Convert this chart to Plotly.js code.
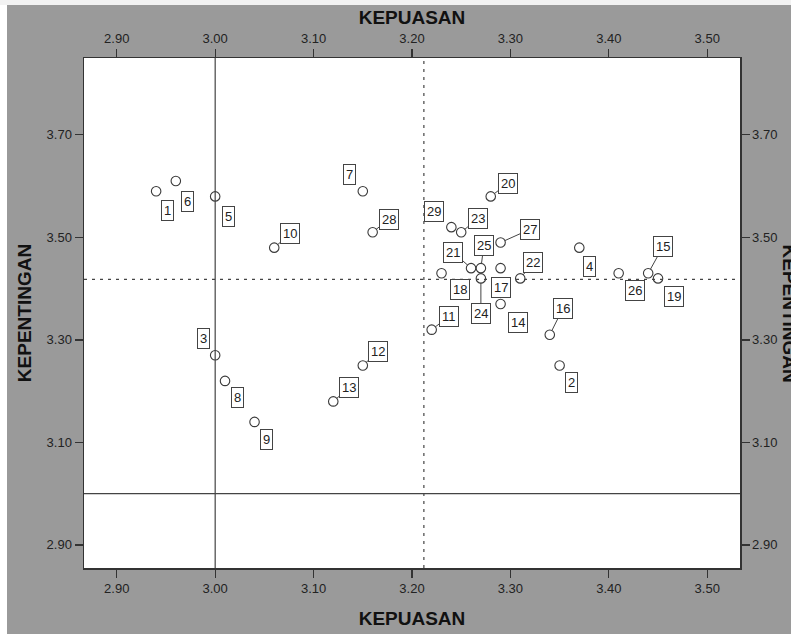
<!DOCTYPE html>
<html>
<head>
<meta charset="utf-8">
<script src="https://cdn.plot.ly/plotly-3.0.1.min.js"></script>
<style>
  html, body { margin: 0; padding: 0; background: #ffffff; }
  #chart { width: 791px; height: 634px; }
</style>
</head>
<body>
<div id="chart"></div>
<script>
// ---- data ----
const itemLabels = ["1","2","3","4","5","6","7","8","9","10","11","12","13","14","15",
                    "16","17","18","19","20","21","22","23","24","25","26","27","28","29"];
const kepuasan = [2.94, 3.35, 3.00, 3.37, 3.00, 2.96, 3.15, 3.01, 3.04, 3.06,
                  3.22, 3.15, 3.12, 3.29, 3.44, 3.34, 3.29, 3.23, 3.45, 3.28,
                  3.26, 3.31, 3.25, 3.27, 3.27, 3.41, 3.29, 3.16, 3.24];
const kepentingan = [3.59, 3.25, 3.27, 3.48, 3.58, 3.61, 3.59, 3.22, 3.14, 3.48,
                     3.32, 3.25, 3.18, 3.37, 3.43, 3.31, 3.44, 3.43, 3.42, 3.58,
                     3.44, 3.42, 3.51, 3.42, 3.44, 3.43, 3.49, 3.51, 3.52];
const xTickVals = [2.90, 3.00, 3.10, 3.20, 3.30, 3.40, 3.50];
const yTickVals = [2.90, 3.10, 3.30, 3.50, 3.70];
const xRef = 3.00;   // solid reference lines
const yRef = 3.00;

// ---- layout-only settings: pixel offsets of each label box from its point,
//      and whether a leader line is drawn ----
const labelOffsets = [
  [11, 19], [12, 17], [-12, -17], [10, 19], [13, 20], [12, 20], [-13, -17], [12, 17], [12, 18], [16, -14],
  [17, -13], [15, -14], [16, -14], [17, 18], [15, -27], [13, -26], [0, 19], [18, 16], [16, 18], [17, -13],
  [-18, -16], [13, -16], [17, -14], [0, 35], [3, -23], [16, 17], [29, -13], [16, -13], [-17, -16]
];
const leaderOn = [
  0, 0, 0, 0, 0, 0, 0, 0, 0, 1,
  1, 1, 1, 0, 1, 1, 0, 0, 0, 1,
  1, 1, 1, 1, 1, 0, 1, 1, 0
];

const mean = a => a.reduce((s, v) => s + v, 0) / a.length;
const meanX = mean(kepuasan);
const meanY = mean(kepentingan);

const FONT = "Liberation Sans, Arial, Helvetica, sans-serif";
const XR = [2.8667, 3.5333];
const YR = [2.855, 3.85];

const traces = [
  {
    type: "scatter", mode: "markers",
    x: kepuasan, y: kepentingan, text: itemLabels,
    marker: { symbol: "circle-open", size: 9.5, color: "#3a3a3a", line: { width: 1.1 } },
    hoverinfo: "text+x+y", showlegend: false, cliponaxis: false
  },
  { type: "scatter", mode: "markers", x: [], y: [], xaxis: "x2", yaxis: "y2",
    showlegend: false, hoverinfo: "skip" }
];

const axisCommon = {
  ticks: "outside", ticklen: 8, tickwidth: 1.2, tickcolor: "#333",
  showline: true, linecolor: "#333", linewidth: 1.5,
  showgrid: false, zeroline: false, tickformat: ".2f",
  tickfont: { family: FONT, size: 13, color: "#222" },
  automargin: false, fixedrange: true
};
const titleFont = { family: FONT, size: 19, color: "#111", weight: "bold" };

const annotations = itemLabels.map((lab, i) => {
  const base = {
    x: kepuasan[i], y: kepentingan[i], xref: "x", yref: "y", text: lab,
    bgcolor: "#ffffff", bordercolor: "#444", borderwidth: 1, borderpad: 2,
    font: { family: FONT, size: 13, color: "#222" }
  };
  if (leaderOn[i]) {
    return Object.assign(base, {
      showarrow: true, arrowhead: 0, arrowwidth: 1, arrowcolor: "#444",
      ax: labelOffsets[i][0], ay: labelOffsets[i][1], standoff: 4.5
    });
  }
  return Object.assign(base, {
    showarrow: false, xanchor: "center", yanchor: "middle",
    xshift: labelOffsets[i][0], yshift: -labelOffsets[i][1]
  });
});
annotations.push({
  xref: "paper", yref: "paper", x: 1, y: 0.5, xshift: 49.5,
  xanchor: "center", yanchor: "middle", textangle: 90, showarrow: false,
  text: "KEPENTINGAN", font: titleFont
});

const shapes = [
  { type: "rect", xref: "paper", yref: "paper", x0: -0.13, x1: (7 - 84) / 656, y0: -0.2, y1: 1.2,
    fillcolor: "#ffffff", line: { width: 0 }, layer: "above" },
  { type: "rect", xref: "paper", yref: "paper", x0: -0.2, x1: 1.2, y0: (568 - 5) / 510, y1: 1.2,
    fillcolor: "#f2f2f2", line: { width: 0 }, layer: "above" },
  { type: "line", xref: "x", yref: "paper", x0: xRef, x1: xRef, y0: 0, y1: 1,
    line: { color: "#444", width: 1.2 } },
  { type: "line", xref: "paper", yref: "y", x0: 0, x1: 1, y0: yRef, y1: yRef,
    line: { color: "#444", width: 1.2 } },
  { type: "line", xref: "x", yref: "paper", x0: meanX, x1: meanX, y0: 0, y1: 1,
    line: { color: "#444", width: 1.2, dash: "3px,5px" } },
  { type: "line", xref: "paper", yref: "y", x0: 0, x1: 1, y0: meanY, y1: meanY,
    line: { color: "#444", width: 1.2, dash: "3px,5px" } }
];

const layout = {
  width: 791, height: 634,
  margin: { l: 84, r: 51, t: 58, b: 66, pad: 0 },
  paper_bgcolor: "#9a9a9a", plot_bgcolor: "#ffffff",
  font: { family: FONT, color: "#222" },
  showlegend: false,
  xaxis: Object.assign({}, axisCommon, {
    range: XR, tickvals: xTickVals, side: "bottom",
    title: { text: "KEPUASAN", font: titleFont, standoff: 16 }
  }),
  xaxis2: Object.assign({}, axisCommon, {
    range: XR, tickvals: xTickVals, side: "top", overlaying: "x", matches: "x",
    title: { text: "KEPUASAN", font: titleFont, standoff: 1 }
  }),
  yaxis: Object.assign({}, axisCommon, {
    range: YR, tickvals: yTickVals, side: "left",
    title: { text: "KEPENTINGAN", font: titleFont, standoff: 10 }
  }),
  yaxis2: Object.assign({}, axisCommon, {
    range: YR, tickvals: yTickVals, side: "right", overlaying: "y", matches: "y"
  }),
  shapes: shapes,
  annotations: annotations
};

Plotly.newPlot("chart", traces, layout, { staticPlot: true, displayModeBar: false });
</script>
</body>
</html>
